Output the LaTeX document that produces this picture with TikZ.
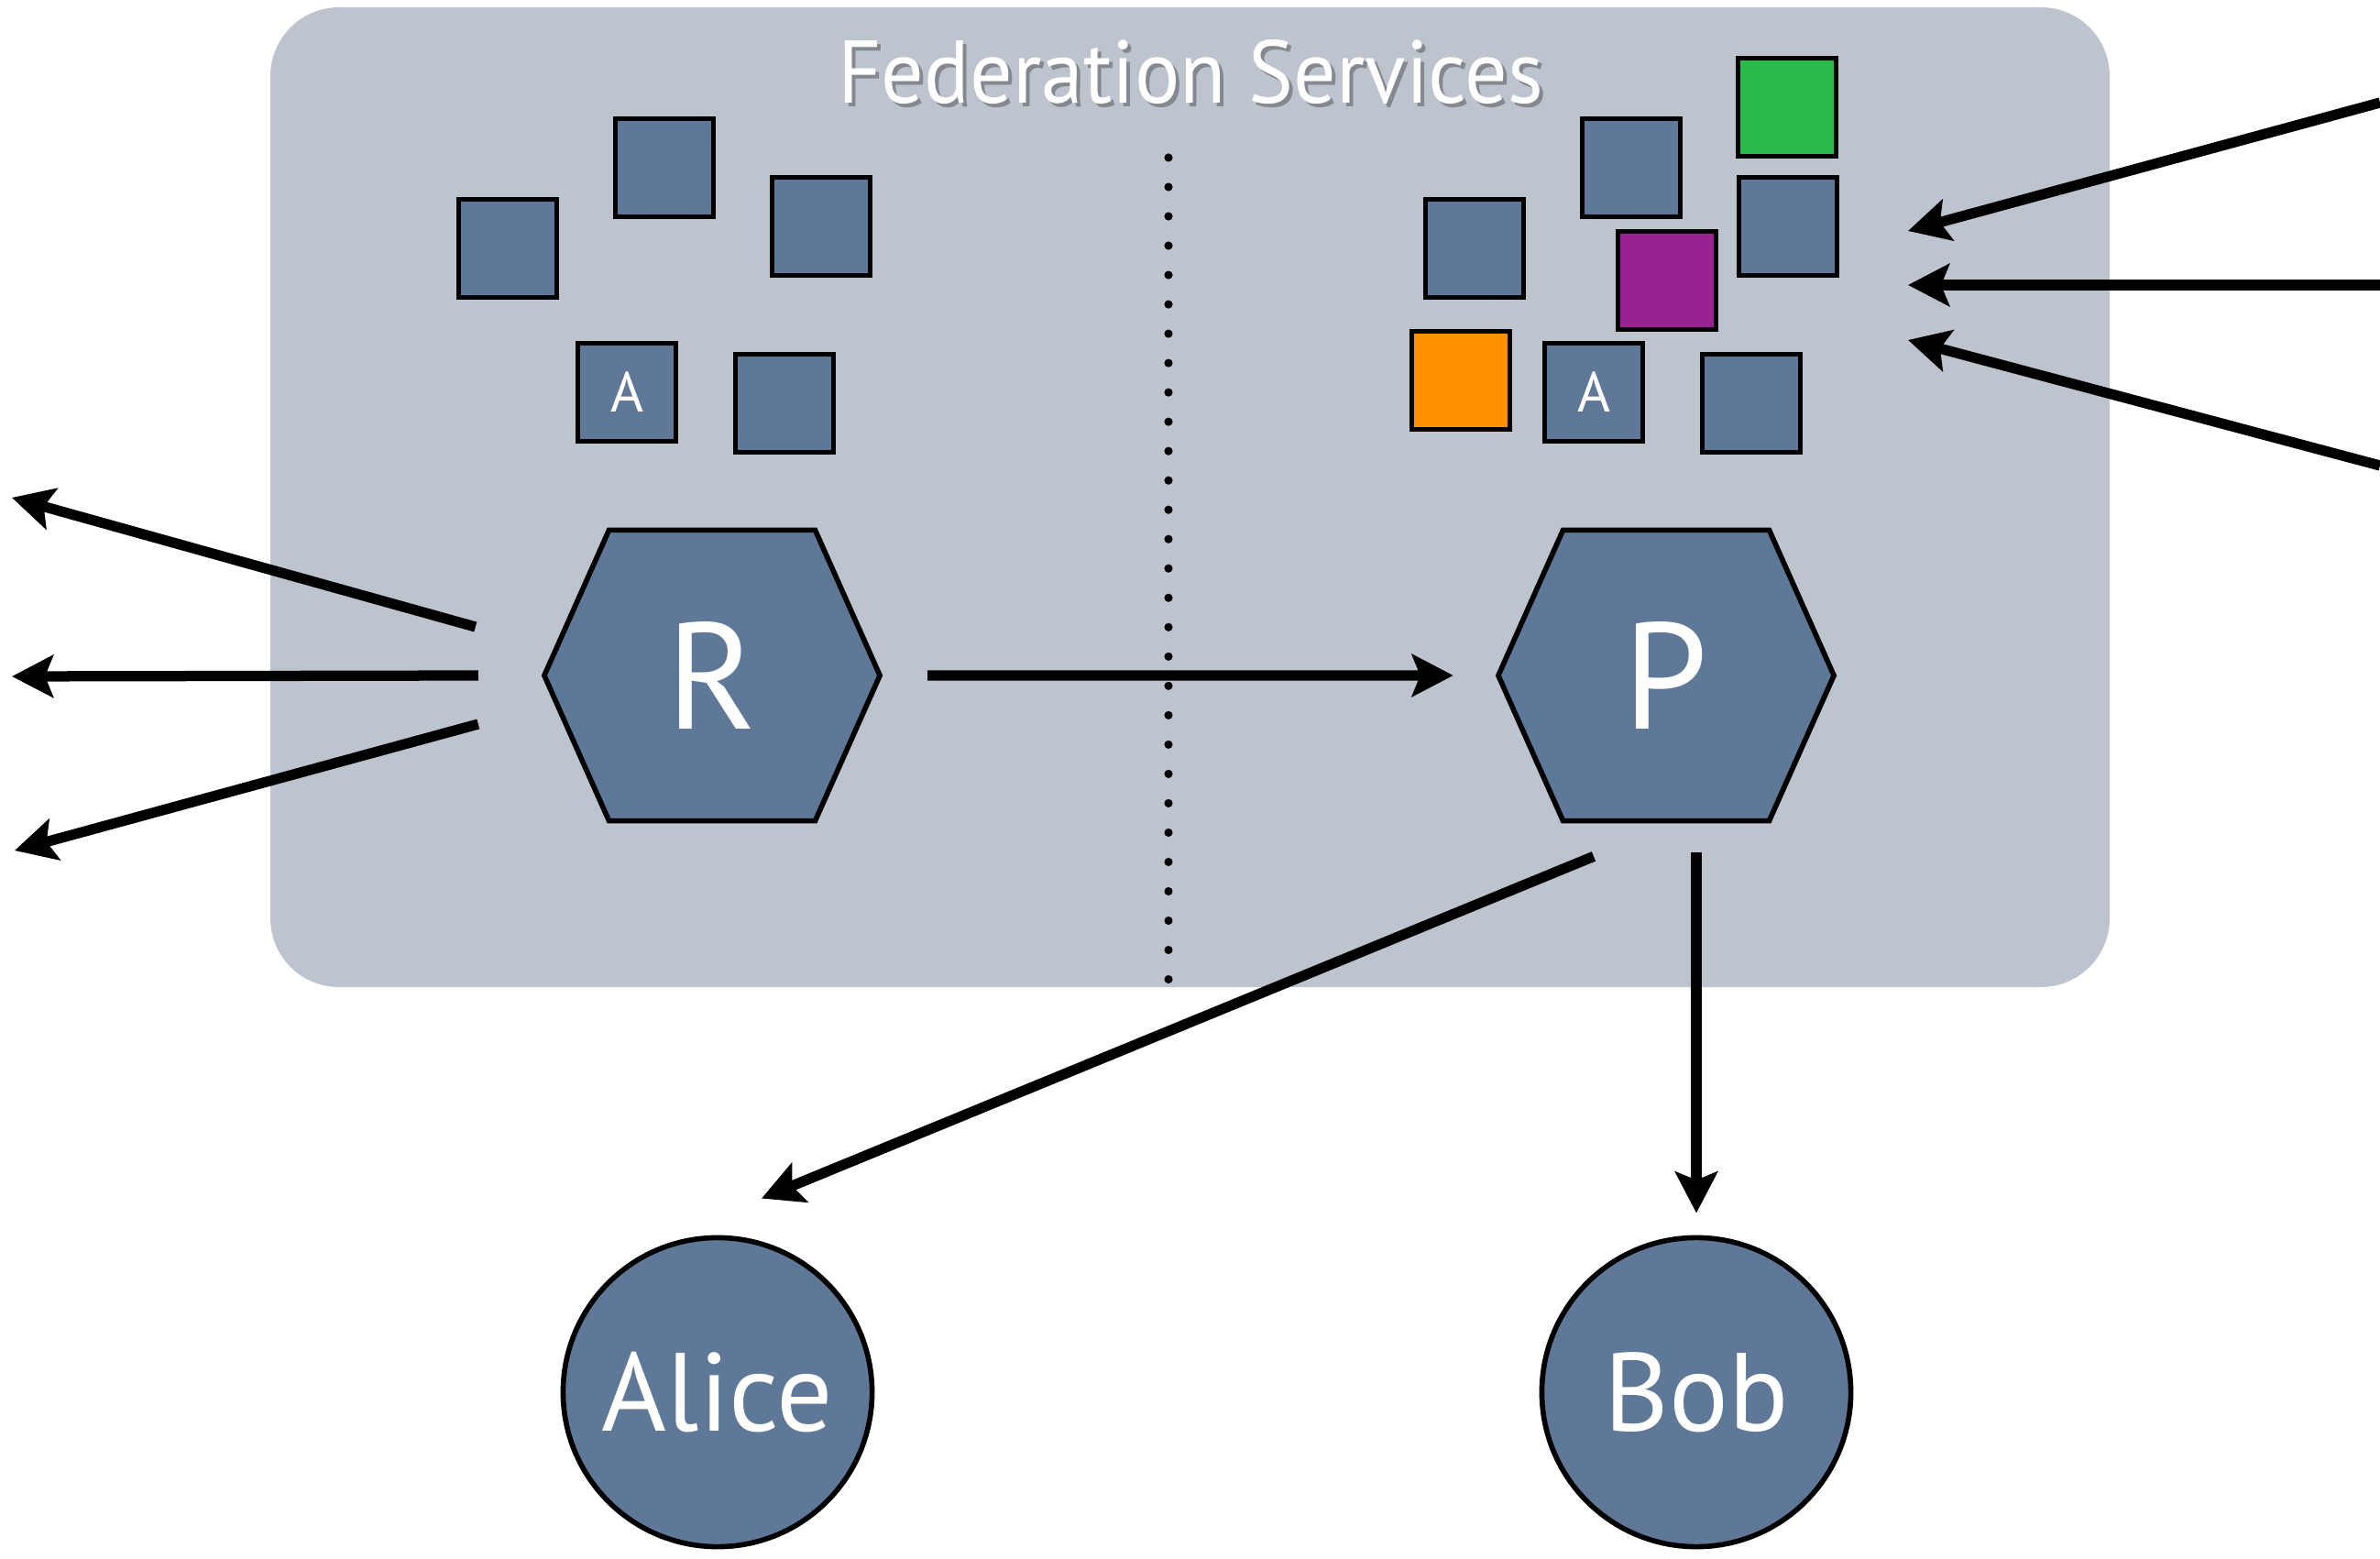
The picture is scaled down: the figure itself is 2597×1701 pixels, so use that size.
\documentclass[tikz,border=0pt]{standalone}
\usepackage{fontspec}
\setmainfont{PT Sans}
\newfontfamily\titlefont{PT Sans}[FakeStretch=0.95]
\usetikzlibrary{shapes.geometric,shapes.symbols,arrows.meta}

\begin{document}
\begin{tikzpicture}[x=0.01cm, y=-0.01cm]
    % Define colors
    \definecolor{panelcolor}{RGB}{190,196,206} % light grey blue
    \definecolor{slatecolor}{RGB}{95,120,152} % slate blue
    \definecolor{greencolor}{RGB}{43,187,75}
    \definecolor{purplecolor}{RGB}{153,34,145}
    \definecolor{orangecolor}{RGB}{255,145,0}

    \tikzset{
        token/.style={draw=black, line width=1.6pt, fill=slatecolor, minimum size=1.07cm,
            inner sep=0pt, text=white, font=\fontsize{17.5}{20}\selectfont},
        party/.style={signal, signal to=east and west, signal pointer angle=132,
            draw=black, line width=1.6pt, fill=slatecolor, minimum width=3.66cm,
            minimum height=3.17cm, inner sep=0pt, text=white, font=\fontsize{47}{50}\selectfont},
        user/.style={circle, draw=black, line width=1.6pt, fill=slatecolor, minimum size=3.37cm,
            inner sep=0pt, text=white, font=\fontsize{34.5}{38}\selectfont},
        flow/.style={line width=3.2pt, -{Stealth[length=4.5mm, width=4.6mm, inset=0.9mm]}}
    }

    \useasboundingbox (0,0) rectangle (2597,1701);

    % Federation panel
    \fill[panelcolor, rounded corners=0.75cm] (295,8) rectangle (2302,1077);
    \draw[line width=2.6pt, line cap=round, dash pattern=on 0pt off 0.32cm] (1275,172) -- (1275,1077);

    % Title
    \node[text=black, opacity=0.3, anchor=base, font=\titlefont\fontsize{27.6}{30}\selectfont] at (1303,117) {Federation Services};
    \node[text=white, anchor=base, font=\titlefont\fontsize{27.6}{30}\selectfont] (title) at (1299,113) {Federation Services};

    % Tokens held by R
    \node[token] (r1) at (554,271) {};
    \node[token] (r2) at (725,183) {};
    \node[token] (r3) at (896,247) {};
    \node[token] (ra) at (684,428) {A};
    \node[token] (r4) at (856,440) {};

    % Tokens held by P
    \node[token] (p1) at (1609,271) {};
    \node[token] (p2) at (1780,183) {};
    \node[token] (p3) at (1951,247) {};
    \node[token] (pa) at (1739,428) {A};
    \node[token] (p4) at (1911,440) {};
    \node[token, fill=greencolor] (pg) at (1950,117) {};
    \node[token, fill=purplecolor] (pp) at (1819,306) {};
    \node[token, fill=orangecolor] (po) at (1594,415) {};

    % Parties
    \node[party] (R) at (777,737) {R};
    \node[party] (P) at (1818,737) {P};

    % Users
    \node[user] (alice) at (783,1519) {Alice};
    \node[user] (bob) at (1851,1519) {Bob};

    % Free ends
    \coordinate (out1) at (13,543);
    \coordinate (out2) at (13,738);
    \coordinate (out3) at (16,928);
    \coordinate (in1) at (2597,112);
    \coordinate (in1 tip) at (2082,252);
    \coordinate (in2) at (2597,311);
    \coordinate (in2 tip) at (2082,311);
    \coordinate (in3) at (2597,508);
    \coordinate (in3 tip) at (2082,371);

    % Flows
    \draw[flow] (R) -- (P) [shorten <=0.49cm, shorten >=0.46cm];
    \draw[flow] ([xshift=-0.72cm, yshift=0.53cm]R.west) -- (out1);
    \draw[flow] ([xshift=-0.69cm]R.west) -- (out2);
    \draw[flow] ([xshift=-0.69cm, yshift=-0.53cm]R.west) -- (out3);
    \draw[flow] (in1) -- (in1 tip);
    \draw[flow] (in2) -- (in2 tip);
    \draw[flow] (in3) -- (in3 tip);
    \draw[flow] ([xshift=-0.79cm, yshift=-0.36cm]P.south) -- ([xshift=0.48cm, yshift=0.40cm]alice.north);
    \draw[flow] ([yshift=-0.32cm]P.south -| bob.north) -- ([yshift=0.24cm]bob.north);
\end{tikzpicture}
\end{document}
